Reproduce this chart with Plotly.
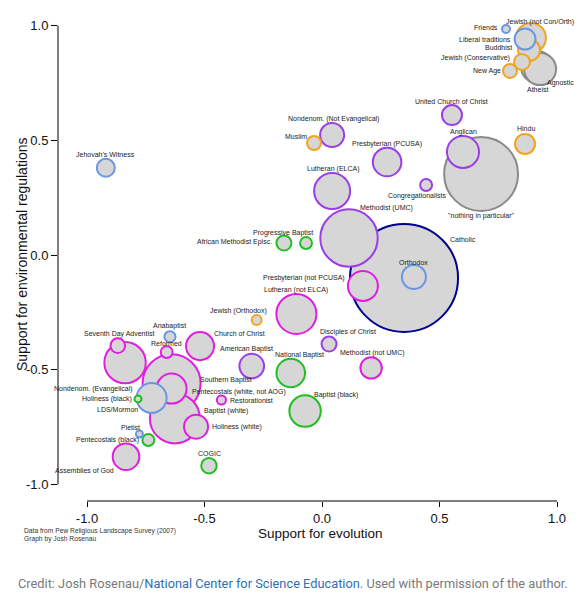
import plotly.graph_objects as go

names = [
    "Friends", "Jewish (not Con/Orth)", "Liberal traditions", "Buddhist",
    "Jewish (Conservative)", "New Age", "Atheist", "Agnostic",
    "United Church of Christ", "Anglican", "Hindu", "\"nothing in particular\"",
    "Congregationalists", "Catholic", "Orthodox", "Presbyterian (PCUSA)",
    "Nondenom. (Not Evangelical)", "Muslim", "Lutheran (ELCA)", "Methodist (UMC)",
    "Progressive Baptist", "African Methodist Episc.", "Presbyterian (not PCUSA)",
    "Lutheran (not ELCA)", "Jewish (Orthodox)", "Disciples of Christ",
    "American Baptist", "National Baptist", "Methodist (not UMC)", "Baptist (black)",
    "Jehovah's Witness", "Seventh Day Adventist", "Nondenom. (Evangelical)",
    "Anabaptist", "Reformed", "Church of Christ", "Southern Baptist",
    "Pentecostals (white, not AOG)", "LDS/Mormon", "Holiness (black)",
    "Restorationist", "Baptist (white)", "Holiness (white)", "Pietist",
    "Pentecostals (black)", "Assemblies of God", "COGIC",
]
evolution = [
    0.783, 0.889, 0.864, 0.881, 0.851, 0.800, 0.915, 0.928,
    0.553, 0.600, 0.864, 0.677, 0.443, 0.349, 0.391, 0.277,
    0.043, -0.034, 0.043, 0.115, -0.068, -0.162, 0.174, -0.109,
    -0.278, 0.030, -0.299, -0.133, 0.209, -0.072, -0.920, -0.869,
    -0.838, -0.647, -0.661, -0.519, -0.640, -0.640, -0.725, -0.783,
    -0.428, -0.626, -0.536, -0.777, -0.739, -0.834, -0.481,
]
environment = [
    0.985, 0.946, 0.941, 0.893, 0.841, 0.802, 0.819, 0.810,
    0.610, 0.449, 0.484, 0.353, 0.305, -0.100, -0.096, 0.405,
    0.523, 0.488, 0.279, 0.074, 0.052, 0.052, -0.135, -0.257,
    -0.283, -0.388, -0.484, -0.514, -0.492, -0.680, 0.380, -0.395,
    -0.469, -0.356, -0.423, -0.397, -0.559, -0.582, -0.623, -0.627,
    -0.632, -0.712, -0.748, -0.780, -0.806, -0.879, -0.918,
]
share = [
    0.13, 1.84, 0.90, 0.99, 0.52, 0.40, 2.10, 2.10,
    0.82, 2.10, 0.82, 11.2, 0.29, 23.9, 1.18, 1.67,
    1.18, 0.40, 2.65, 6.75, 0.29, 0.46, 1.84, 3.28,
    0.20, 0.46, 1.24, 1.67, 0.94, 2.02, 0.66, 0.44,
    3.51, 0.25, 0.29, 1.61, 6.89, 1.84, 1.84, 0.10,
    0.17, 5.12, 1.18, 0.10, 0.29, 1.45, 0.49,
]
tradition = [
    "other", "faith", "other", "faith", "faith", "faith", "unaff", "unaff",
    "mainline", "mainline", "faith", "unaff", "mainline", "catholic", "other", "mainline",
    "mainline", "faith", "mainline", "mainline", "black", "black", "evang", "evang",
    "faith", "mainline", "mainline", "black", "evang", "black", "other", "evang",
    "evang", "other", "evang", "evang", "evang", "evang", "other", "black",
    "evang", "evang", "evang", "other", "black", "evang", "black",
]

# ---- styling ----
colors = {
    "evang": "#e01ee0", "mainline": "#9b3de8", "black": "#1fbf1f",
    "other": "#6a96e6", "faith": "#f2a41e", "unaff": "#8a8a8a", "catholic": "#00008f",
}
# label offsets in pixels (dx right, dy down) and anchor
label_pos = {
    "Friends": (-6, -1, "right"), "Jewish (not Con/Orth)": (-27, -16, "left"),
    "Liberal traditions": (-12, 0, "right"), "Buddhist": (-15, -3, "right"),
    "Jewish (Conservative)": (-10, -4, "right"), "New Age": (-7, 0, "right"),
    "Atheist": (0, 22, "center"), "Agnostic": (5, 14, "left"),
    "United Church of Christ": (0, -14, "center"), "Anglican": (0, -20, "center"),
    "Hindu": (1, -15, "center"), "\"nothing in particular\"": (0, 42, "center"),
    "Congregationalists": (-9, 11, "center"), "Catholic": (44, -38, "left"),
    "Orthodox": (0, -15, "center"), "Presbyterian (PCUSA)": (0, -18, "center"),
    "Nondenom. (Not Evangelical)": (1, -16, "center"), "Muslim": (-18, -7, "center"),
    "Lutheran (ELCA)": (1, -22, "center"), "Methodist (UMC)": (37, -30, "center"),
    "Progressive Baptist": (-23, -10, "center"), "African Methodist Episc.": (-10, -1, "right"),
    "Presbyterian (not PCUSA)": (-16, -8, "right"), "Lutheran (not ELCA)": (0, -24, "center"),
    "Jewish (Orthodox)": (-18, -9, "center"), "Disciples of Christ": (19, -12, "center"),
    "American Baptist": (-5, -17, "center"), "National Baptist": (9, -18, "center"),
    "Methodist (not UMC)": (1, -15, "center"), "Baptist (black)": (31, -16, "center"),
    "Jehovah's Witness": (0, -13, "center"), "Seventh Day Adventist": (1, -12, "center"),
    "Nondenom. (Evangelical)": (10, 26, "right"), "Anabaptist": (0, -11, "center"),
    "Reformed": (0, -9, "center"), "Church of Christ": (12, -13, "left"),
    "Southern Baptist": (26, -3, "left"), "Pentecostals (white, not AOG)": (18, 3, "left"),
    "LDS/Mormon": (-12, 12, "right"), "Holiness (black)": (-4, 0, "right"),
    "Restorationist": (7, 0, "left"), "Baptist (white)": (27, -7, "left"),
    "Holiness (white)": (14, 0, "left"), "Pietist": (-9, -7, "center"),
    "Pentecostals (black)": (-7, 0, "right"), "Assemblies of God": (-10, 14, "right"),
    "COGIC": (1, -12, "center"),
}

order = sorted(range(len(names)), key=lambda i: -share[i])
FONT = "Liberation Sans, Arial, sans-serif"

# radius (px) = 11.05*sqrt(share); plotly area mode: r = sqrt(size/(2*sizeref))
sizeref = 1.0 / (2 * 11.05 ** 2)

fig = go.Figure()
fig.add_trace(go.Scatter(
    x=[evolution[i] for i in order],
    y=[environment[i] for i in order],
    mode="markers",
    text=[names[i] for i in order],
    marker=dict(
        size=[share[i] for i in order],
        sizemode="area", sizeref=sizeref,
        color="#d6d6d6",
        line=dict(color=[colors[tradition[i]] for i in order], width=2),
        opacity=1,
    ),
    hoverinfo="text",
    showlegend=False,
))

annotations = []
for i, n in enumerate(names):
    dx, dy, anc = label_pos[n]
    annotations.append(dict(
        x=evolution[i], y=environment[i], xref="x", yref="y",
        text=n, showarrow=False, xanchor=anc, yanchor="middle",
        xshift=dx, yshift=-dy,
        font=dict(family=FONT, size=7, color="#222222"),
    ))

# page has an 8px body margin; page-pixel layout: plot area x 58..575, y 8..501
OFF = 8
W, H = 584 - OFF, 601 - OFF
PL, PR, PT, PB = 58, 575, 8, 501
L, R, T, B = PL - OFF, (W + OFF) - PR, PT - OFF, (H + OFF) - PB
pw, ph = PR - PL, PB - PT

def px(xp):
    return (xp - PL) / pw

def py(yp):
    return (PB - yp) / ph

annotations += [
    dict(x=px(320), y=py(533), xref="paper", yref="paper", text="Support for evolution",
         showarrow=False, xanchor="center", yanchor="middle",
         font=dict(family=FONT, size=13.5, color="#111111")),
    dict(x=px(22), y=py(255), xref="paper", yref="paper",
         text="Support for environmental regulations", textangle=-90,
         showarrow=False, xanchor="center", yanchor="middle",
         font=dict(family=FONT, size=14, color="#111111")),
    dict(x=px(22), y=py(531), xref="paper", yref="paper",
         text="Data from Pew Religious Landscape Survey (2007)",
         showarrow=False, xanchor="left", yanchor="middle",
         font=dict(family=FONT, size=6.7, color="#333333")),
    dict(x=px(22), y=py(539), xref="paper", yref="paper",
         text="Graph by Josh Rosenau",
         showarrow=False, xanchor="left", yanchor="middle",
         font=dict(family=FONT, size=6.7, color="#333333")),
    dict(x=px(16), y=py(583), xref="paper", yref="paper",
         text="Credit: Josh Rosenau/<span style='color:#2f6fb3'>National Center for Science Education</span>. Used with permission of the author.",
         showarrow=False, xanchor="left", yanchor="middle",
         font=dict(family="Roboto, Liberation Sans, sans-serif", size=12.8, color="#7a7a7a")),
]

ticks = [-1.0, -0.5, 0.0, 0.5, 1.0]
ticktext = ["-1.0", "-0.5", "0.0", "0.5", "1.0"]

fig.update_layout(
    width=W, height=H,
    margin=dict(l=L, r=R, t=T, b=B, pad=0),
    paper_bgcolor="white", plot_bgcolor="white",
    xaxis=dict(range=[(PL - 322) / 235, (PR - 322) / 235], showgrid=False, zeroline=False,
               showline=False, ticks="outside", ticklen=5, tickwidth=1, tickcolor="#000",
               tickvals=ticks, ticktext=ticktext,
               tickfont=dict(family=FONT, size=13, color="#111111")),
    yaxis=dict(range=[(255 - PB) / 229.5, (255 - PT) / 229.5], showgrid=False, zeroline=False,
               showline=False, ticks="outside", ticklen=6, tickwidth=1, tickcolor="#000",
               tickvals=ticks, ticktext=ticktext,
               tickfont=dict(family=FONT, size=13, color="#111111")),
    annotations=annotations,
    shapes=[
        dict(type="line", xref="x", yref="paper", x0=-1, x1=1, y0=0, y1=0,
             line=dict(color="#000", width=1)),
        dict(type="line", xref="paper", yref="y", x0=0, x1=0, y0=-1, y1=1,
             line=dict(color="#000", width=1)),
    ],
)

fig.write_html("out.html")
